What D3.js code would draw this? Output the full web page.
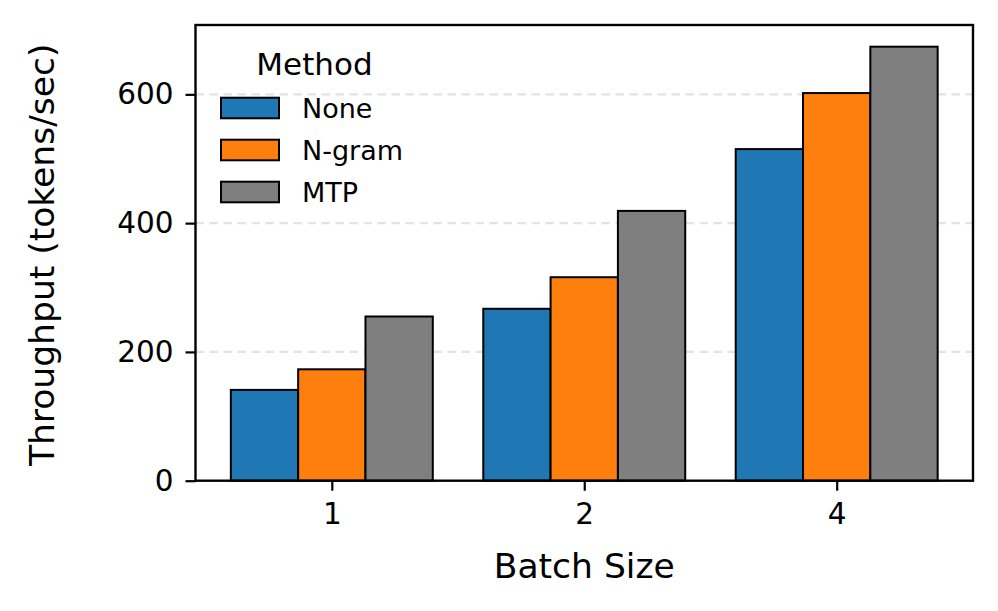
<!DOCTYPE html>
<html>
<head>
<meta charset="utf-8">
<script src="https://cdn.jsdelivr.net/npm/d3@7"></script>
<style>
  html, body { margin: 0; padding: 0; background: #fff; }
  svg { display: block; font-family: "DejaVu Sans", sans-serif; }
</style>
</head>
<body>
<svg id="chart" width="998" height="611"></svg>
<script>
const categories = ["1", "2", "4"];
const methods = ["None", "N-gram", "MTP"];
const colors = ["#1f77b4", "#ff7f0e", "#7f7f7f"];
const noneValues = [141, 267, 515];
const ngramValues = [173, 316, 602];
const mtpValues = [255, 419, 674];
const yTicks = [0, 200, 400, 600];
const gridTicks = [200, 400, 600];
const xLabel = "Batch Size";
const yLabel = "Throughput (tokens/sec)";
const legendTitle = "Method";

const series = [noneValues, ngramValues, mtpValues];

const svg = d3.select("#chart");
const L = 195.5, R = 973, T = 25, B = 480.7;

const nGroups = categories.length;
const groupWidth = 0.8;
const barW = groupWidth / methods.length;
const x = d3.scaleLinear().domain([-0.54, nGroups - 1 + 0.54]).range([L, R]);
const maxV = d3.max(series.flat());
const y = d3.scaleLinear().domain([0, maxV * 1.05]).range([B, T]);

// grid
svg.append("g").selectAll("line").data(gridTicks).join("line")
  .attr("x1", L).attr("x2", R)
  .attr("y1", d => y(d)).attr("y2", d => y(d))
  .attr("stroke", "#e3e3e3").attr("stroke-width", 2.4)
  .attr("stroke-dasharray", "8.5,5.5");

// bars
methods.forEach((m, mi) => {
  svg.append("g").selectAll("rect").data(series[mi]).join("rect")
    .attr("x", (d, i) => x(i - groupWidth / 2 + mi * barW))
    .attr("width", x(barW) - x(0))
    .attr("y", d => y(d))
    .attr("height", d => B - y(d))
    .attr("fill", colors[mi])
    .attr("stroke", "#000")
    .attr("stroke-width", 2);
});

// axes
const yAxis = d3.axisLeft(y).tickValues(yTicks).tickSize(10).tickPadding(12).tickFormat(d3.format("d"));
const gy = svg.append("g").attr("transform", `translate(${L},0)`).call(yAxis);
const xAxis = d3.axisBottom(x).tickValues(d3.range(nGroups)).tickFormat(i => categories[i]).tickSize(10).tickPadding(12);
const gx = svg.append("g").attr("transform", `translate(0,${B})`).call(xAxis);
[gx, gy].forEach(g => {
  g.select(".domain").remove();
  g.selectAll(".tick line").attr("stroke", "#000").attr("stroke-width", 2.2);
  g.selectAll(".tick text").attr("font-size", 29.5).attr("fill", "#000")
    .attr("font-family", "DejaVu Sans");
});

// frame
svg.append("rect").attr("x", L).attr("y", T).attr("width", R - L).attr("height", B - T)
  .attr("fill", "none").attr("stroke", "#000").attr("stroke-width", 2.4);

// axis labels
svg.append("text").attr("x", (L + R) / 2).attr("y", 578)
  .attr("text-anchor", "middle").attr("font-size", 34.5).text(xLabel);
svg.append("text").attr("transform", `translate(54,${(T + B) / 2 + 2}) rotate(-90)`)
  .attr("text-anchor", "middle").attr("font-size", 34.5).text(yLabel);

// legend
const lg = svg.append("g");
lg.append("text").attr("x", 314.5).attr("y", 75).attr("text-anchor", "middle")
  .attr("font-size", 31).text(legendTitle);
methods.forEach((m, mi) => {
  const cy = 108 + mi * 42;
  lg.append("rect").attr("x", 221).attr("y", cy - 10.3).attr("width", 58).attr("height", 20.6)
    .attr("fill", colors[mi]).attr("stroke", "#000").attr("stroke-width", 2);
  lg.append("text").attr("x", 302).attr("y", cy + 9.5).attr("font-size", 27).text(m);
});
</script>
</body>
</html>
